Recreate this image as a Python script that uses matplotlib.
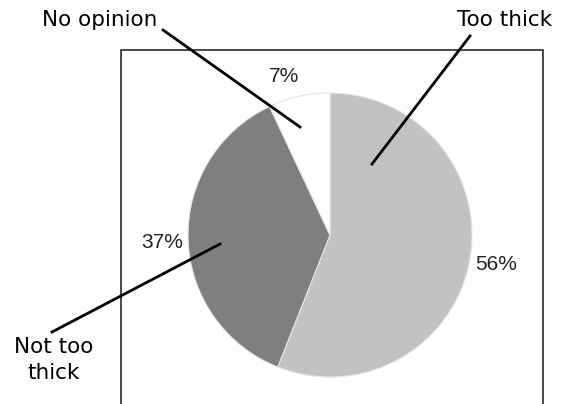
import matplotlib
matplotlib.use("Agg")
import matplotlib.pyplot as plt

# survey answers
labels = ['Too thick', 'Not too thick', 'No opinion']
shares = [56, 37, 7]
colors = ['#c2c2c2', '#7f7f7f', '#ffffff']
pct_text = ['56%', '37%', '7%']

W, H = 571, 404
fig = plt.figure(figsize=(W / 100, H / 100), dpi=100)
ax = fig.add_axes([0, 0, 1, 1])

# pixel coords, y measured from the top of the image
cx, cy, r = 330, 235, 142

def yy(y):
    return H - y

ax.pie(shares, colors=colors, startangle=90, counterclock=False,
       center=(cx, yy(cy)), radius=r, frame=True,
       wedgeprops=dict(edgecolor='#e6e6e6', linewidth=0.8))

ax.set_xlim(0, W)
ax.set_ylim(0, H)
ax.set_aspect('equal')
ax.axis('off')

# box around the chart (open at the bottom, runs off the image)
ax.plot([121, 121, 543, 543], [yy(410), yy(50), yy(50), yy(410)],
        color='#3a3a3a', lw=1.3, solid_capstyle='butt')

# percentages
pct_pos = [(496, 264), (162, 243), (284, 76)]
for t, (x, y) in zip(pct_text, pct_pos):
    ax.text(x, yy(y), t, ha='center', va='center', fontsize=15,
            family='Liberation Sans', color='#222222')

# callout labels with leader lines
lab_pos = [(505, 20), (54, 360), (100, 20)]
lab_txt = ['Too thick', 'Not too\nthick', 'No opinion']
lines = [((470, 36), (372, 164)), ((52, 332), (220, 244)), ((163, 30), (300, 127))]
for t, (x, y), (p0, p1) in zip(lab_txt, lab_pos, lines):
    ax.text(x, yy(y), t, ha='center', va='center', fontsize=15.5,
            family='DejaVu Sans', linespacing=1.4, color='black')
    ax.plot([p0[0], p1[0]], [yy(p0[1]), yy(p1[1])], color='black', lw=2)

plt.savefig('out.png', dpi=100)
plt.close()
